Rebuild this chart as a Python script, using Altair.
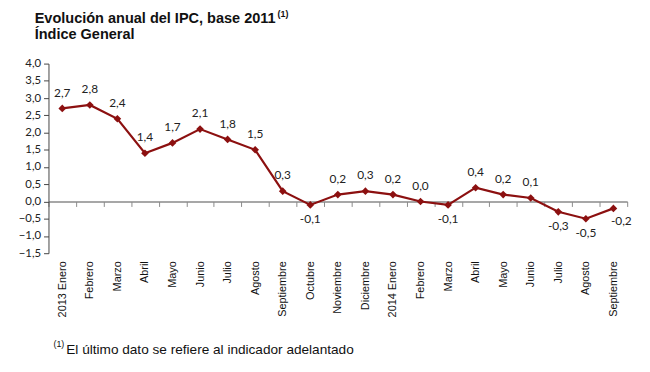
import altair as alt
import pandas as pd

labels = ["2013 Enero", "Febrero", "Marzo", "Abril", "Mayo", "Junio", "Julio",
          "Agosto", "Septiembre", "Octubre", "Noviembre", "Diciembre",
          "2014 Enero", "Febrero", "Marzo", "Abril", "Mayo", "Junio", "Julio",
          "Agosto", "Septiembre"]
values = [2.7, 2.8, 2.4, 1.4, 1.7, 2.1, 1.8, 1.5, 0.3, -0.1, 0.2, 0.3,
          0.2, 0.0, -0.1, 0.4, 0.2, 0.1, -0.3, -0.5, -0.2]
y_ticks = [-1.5, -1.0, -0.5, 0.0, 0.5, 1.0, 1.5, 2.0, 2.5, 3.0, 3.5, 4.0]

title_text = "Evolución anual del IPC, base 2011"
subtitle_text = "Índice General"
note_text = "El último dato se refiere al indicador adelantado"

df = pd.DataFrame({"idx": list(range(len(values))), "value": values})
df["txt"] = [f"{v:.1f}".replace(".", ",") for v in values]
n = len(values)

W, H = 586, 192
ymin, ymax = -1.5, 4.0
zero_offset = -(H * (0 - ymin) / (ymax - ymin))

LINE = "#8c1010"
label_expr = "[" + ",".join('"' + s + '"' for s in labels) + "][datum.value]"

x_enc = alt.X("idx:O", sort=None,
              scale=alt.Scale(type="band", paddingInner=0, paddingOuter=0),
              axis=alt.Axis(title=None, orient="bottom", offset=zero_offset,
                            domain=True, domainColor="#8a8a8a", domainWidth=1.5,
                            ticks=True, tickBand="extent", tickSize=5,
                            tickColor="#8a8a8a", labelAngle=270,
                            labelAlign="right", labelBaseline="middle",
                            labelPadding=55, labelExpr=label_expr,
                            labelOverlap=False,
                            labelFont="Liberation Sans", labelFontSize=11,
                            labelColor="#111111"))
y_enc = alt.Y("value:Q",
              scale=alt.Scale(domain=[ymin, ymax], nice=False, zero=False),
              axis=alt.Axis(title=None, values=y_ticks, grid=False,
                            domain=True, domainColor="#444444",
                            tickColor="#444444", labelOverlap=False,
                            tickSize=5, labelFont="Lato", labelFontSize=11.5,
                            labelColor="#222222", labelPadding=3,
                            labelExpr="replace(format(datum.value, '.1f'), '.', ',')"))

base = alt.Chart(df)

line = base.mark_line(color=LINE, strokeWidth=2.2).encode(x=x_enc, y=y_enc)
pts = base.mark_point(shape="diamond", filled=True, color=LINE, size=60, opacity=1).encode(
    x=x_enc, y=y_enc)

txt_kw = dict(font="Lato", fontSize=12, color="#222222")
above = base.transform_filter("datum.value >= 0").mark_text(dy=-16, **txt_kw).encode(
    x=x_enc, y=y_enc, text="txt:N")
below = base.transform_filter(f"datum.value < 0 && datum.idx < {n - 1}").mark_text(
    dy=14, **txt_kw).encode(x=x_enc, y=y_enc, text="txt:N")
right = base.transform_filter(f"datum.idx == {n - 1}").mark_text(
    dx=8, dy=13, **txt_kw).encode(x=x_enc, y=y_enc, text="txt:N")

one = pd.DataFrame({"a": [0]})
t1 = alt.Chart(one).mark_text(text=title_text, font="Liberation Sans", fontSize=14.7,
                              fontWeight="bold", align="left", baseline="alphabetic",
                              color="#111111").encode(x=alt.value(-14), y=alt.value(-41))
t1s = alt.Chart(one).mark_text(text="(1)", font="Liberation Sans", fontSize=9,
                               fontWeight="bold", align="left", baseline="alphabetic",
                               color="#111111").encode(x=alt.value(232), y=alt.value(-47))
t2 = alt.Chart(one).mark_text(text=subtitle_text, font="Liberation Sans", fontSize=14.7,
                              fontWeight="bold", align="left", baseline="alphabetic",
                              color="#111111").encode(x=alt.value(-14), y=alt.value(-25))
n1 = alt.Chart(one).mark_text(text="(1)", font="Liberation Sans", fontSize=9,
                              align="left", baseline="alphabetic",
                              color="#111111").encode(x=alt.value(5), y=alt.value(287))
n2 = alt.Chart(one).mark_text(text=note_text, font="Liberation Sans", fontSize=13.8,
                              align="left", baseline="alphabetic",
                              color="#111111").encode(x=alt.value(18), y=alt.value(294))

chart = alt.layer(line, pts, above, below, right, t1, t1s, t2, n1, n2).properties(
    width=W, height=H,
    autosize=alt.AutoSizeParams(type="none"),
    padding={"left": 41, "top": 54, "right": 15, "bottom": 118},
    background="white",
).configure_view(strokeWidth=0, stroke="transparent").configure_axis(labelOverlap=False)

chart.save("out.html", embed_options={"renderer": "svg", "actions": False})
